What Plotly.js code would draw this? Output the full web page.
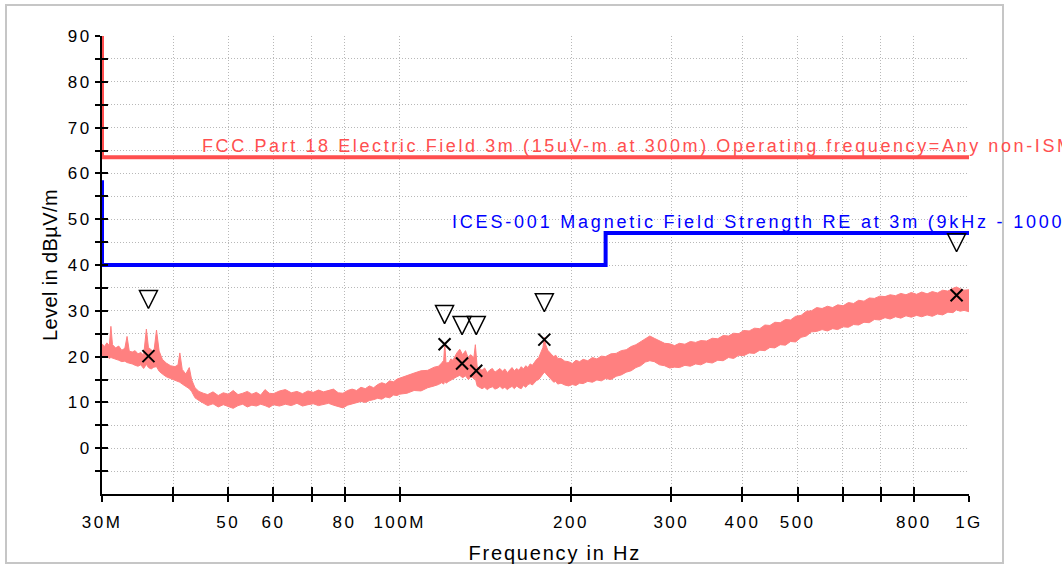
<!DOCTYPE html>
<html><head><meta charset="utf-8">
<script src="https://cdn.plot.ly/plotly-3.0.1.min.js"></script>
<style>
html,body{margin:0;padding:0;background:#fff;}
#chart{width:1062px;height:564px;}
.xtick text,.ytick text{letter-spacing:2.5px;}
</style></head><body><div id="chart"></div>
<script>
// ---- data (frequency in MHz, level in dBµV/m) ----
// measured spectrum, read as lower / upper edge of the trace band
const specFreqA = [30.0,30.3,30.6,30.9,31.1,31.3,31.7,32.1,32.5,32.9,33.2,33.5,33.9,34.3,34.7,35.1,35.5,35.9,36.2,36.6,37.0,37.4,37.8,38.3,38.9,39.6,40.3,40.8,41.1,41.5,42.1,42.7,43.1,43.7,44.4,45.2];
const specLoA   = [20.2,19.9,20.1,19.6,19.8,19.7,19.4,19.2,18.9,19.0,18.7,18.6,18.4,18.1,17.9,18.2,17.4,18.3,17.6,17.3,17.7,17.8,16.8,16.2,15.6,15.2,14.8,14.6,14.4,14.0,13.4,13.0,12.4,11.0,10.4,9.8];
const specHiA   = [22.8,22.2,23.0,22.4,26.6,22.6,21.9,22.3,21.4,21.8,24.4,21.2,21.0,21.3,20.6,20.9,20.3,26.0,22.0,21.4,21.0,25.8,21.2,19.4,18.6,18.0,17.8,18.2,20.8,17.2,16.2,17.6,15.0,13.2,12.4,12.0];

const specFreqB = [46,47,48,49,50,51,52,53,54,55,56,57,58,59,60,61.5,63,64.5,66,67.5,69,70.5,72,73.5,75,76.5,78,79.5,81,82.5,84,85.5,87,88.5,90,91.5,93,94.5,96,97.5,99,100];
const specLoB   = [9.3,9.7,9.0,9.5,9.1,8.7,9.3,9.6,9.0,9.4,9.2,9.6,9.3,8.9,9.5,9.2,9.6,9.3,9.8,9.2,9.5,9.7,9.3,9.6,9.8,9.4,9.1,8.8,9.4,9.7,9.9,10.2,10.0,10.4,10.6,10.9,10.7,11.2,11.0,11.6,11.5,11.8];
const specHiB   = [11.7,12.3,11.5,12.1,11.8,12.6,11.7,12.0,12.4,11.8,12.2,11.6,12.8,12.0,11.9,12.5,12.8,12.1,12.4,11.9,12.5,12.2,12.7,12.3,12.6,12.9,12.1,12.0,12.6,12.9,12.6,13.3,13.0,13.6,13.2,13.9,14.3,14.0,14.7,14.5,15.1,15.3];

const specFreqC = [103,106,109,112,115,117,118.5,119.5,120,120.6,122,123,124,125,126,127.5,129,130.5,132,133,134,135,135.8,136.8,138,139.5,141,142.5,144,145.5,147,148.5,150,151.5,153,154.5,156,157.5,159,160.5,162,163.5,165,166.5,168,169.5,171,172.5,174,175.5,177,178.5,179.5,180.5,182,183.5,185,186.5,188,189.5];
const specLoC   = [12.0,12.6,12.5,13.2,13.6,13.9,14.3,14.0,14.8,14.2,14.6,14.9,15.0,15.4,15.6,15.9,15.4,15.8,15.0,15.4,15.6,15.1,15.2,13.6,13.4,13.0,13.3,12.8,13.2,13.4,12.9,13.1,13.5,13.0,13.3,12.8,13.2,13.5,13.0,13.6,13.2,13.0,13.7,13.3,13.9,14.1,13.8,14.4,14.8,15.0,15.6,16.2,16.6,16.3,15.8,15.3,14.9,14.4,14.6,14.0];
const specHiC   = [16.0,16.4,16.9,17.0,17.7,17.9,18.6,19.2,23.0,18.6,18.7,19.5,19.2,20.2,20.8,21.6,20.4,21.3,19.6,20.4,20.2,19.8,22.6,17.8,17.4,17.0,17.5,16.5,17.1,17.4,16.6,17.0,17.4,16.8,17.3,16.5,17.1,17.6,16.9,17.4,17.0,17.8,17.3,18.0,17.6,18.4,18.1,18.8,19.4,19.8,20.8,22.0,24.2,22.6,21.4,20.8,20.4,20.0,20.3,19.6];

const specFreqD = [192,195,198,201,204,207,210,214,218,222,226,230,235,240,245,250,255,260,265,270,275,280,286,292,298,304,310,317,324,331,338,346,354,362,370,378,386,394,402,411,420,429,438,447,456,466,476,486,496,507,518,529,540,552,564,576,588,601,614,627,640,654,668,682,697,712,727,743,759,775,792,809,826,844,862,880,899,918,937,951,965,980,1000];
const specLoD   = [14.2,13.8,13.6,13.9,13.7,14.2,14.1,14.6,14.4,14.9,14.7,15.2,15.0,15.7,16.0,16.6,16.9,17.6,18.0,18.8,19.1,18.9,18.2,18.0,17.5,17.7,17.6,18.1,17.9,18.4,18.2,18.8,18.6,19.2,19.1,19.8,19.6,20.3,20.2,20.8,20.7,21.4,21.3,22.0,21.9,22.6,22.5,23.3,23.2,24.2,24.5,25.4,25.5,25.9,25.6,26.1,25.9,26.5,26.4,27.0,26.9,27.5,27.4,28.1,28.0,28.5,28.2,28.7,28.4,28.9,28.6,29.0,28.7,29.1,28.8,29.3,29.1,29.7,29.6,30.2,29.9,30.1,29.8];
const specHiD   = [19.6,19.0,18.9,18.5,19.2,18.9,19.4,19.1,19.8,19.5,20.1,20.0,20.6,20.7,21.3,21.5,22.2,22.6,23.3,23.9,24.5,24.0,23.5,22.9,22.8,22.4,22.9,22.7,23.3,23.1,23.5,23.4,24.0,23.9,24.6,24.5,25.1,25.0,25.7,25.6,26.2,26.1,26.9,26.8,27.5,27.4,28.1,28.0,28.8,29.0,29.9,30.0,30.7,30.5,31.0,30.7,31.3,31.1,31.8,31.6,32.3,32.1,32.8,32.7,33.2,33.1,33.5,33.3,33.8,33.5,34.0,33.6,34.1,33.7,34.2,33.9,34.5,34.3,34.9,35.2,34.8,34.5,34.6];

// limit lines
const fccFreq  = [30, 30, 1000];
const fccLevel = [90, 63.5, 63.5];
const icesFreq  = [30, 30, 230, 230, 1000];
const icesLevel = [58.5, 40, 40, 47, 47];

// final measurement markers
const peakFreq  = [36.2, 119.9, 128.7, 136.3, 179.5, 951];
const peakLevel = [30.5, 27.2, 24.8, 24.8, 29.8, 42.9];
const qpFreq  = [36.2, 119.9, 128.7, 136.3, 179.5, 951];
const qpLevel = [20.1, 22.7, 18.5, 16.9, 23.7, 33.4];

// axes
const xTickVals = [30,40,50,60,70,80,100,200,300,400,500,600,700,800,1000];
const xTickText = ['30M','','50','60','','80','100M','200','300','400','500','','','800','1G'];
const yTickVals = [-5,0,5,10,15,20,25,30,35,40,45,50,55,60,65,70,75,80,85,90];
const yTickText = ['','0','','10','','20','','30','','40','','50','','60','','70','','80','','90'];

const fccLabel  = 'FCC Part 18 Electric Field 3m (15uV-m at 300m) Operating frequency=Any non-ISM frequency';
const icesLabel = 'ICES-001 Magnetic Field Strength RE at 3m (9kHz - 1000MHz)';
const xTitle = 'Frequency in Hz';
const yTitle = 'Level in dBµV/m';

const specFreq = specFreqA.concat(specFreqB, specFreqC, specFreqD);
const specLo = specLoA.concat(specLoB, specLoC, specLoD);
const specHi = specHiA.concat(specHiB, specHiC, specHiD);

// ---- styles ----
const FONT = 'Liberation Sans, Arial, sans-serif';
const SPEC = '#ff8080';
const RED = '#ff4f4f';
const BLUE = '#0000ff';
const GRID = '#b8b8b8';

const traces = [
  {x: specFreq, y: specLo, mode: 'lines', line: {color: SPEC, width: 1}, hoverinfo: 'skip', showlegend: false},
  {x: specFreq, y: specHi, mode: 'lines', fill: 'tonexty', fillcolor: SPEC, line: {color: SPEC, width: 1}, hoverinfo: 'skip', showlegend: false},
  {x: fccFreq, y: fccLevel, mode: 'lines', line: {color: RED, width: 4}, cliponaxis: false, showlegend: false},
  {x: icesFreq, y: icesLevel, mode: 'lines', line: {color: BLUE, width: 4}, cliponaxis: false, showlegend: false},
  {x: peakFreq, y: peakLevel, mode: 'markers', marker: {symbol: 'arrow-down-open', size: 18, color: '#000', line: {color: '#000', width: 1.5}}, cliponaxis: false, showlegend: false},
  {x: qpFreq, y: qpLevel, mode: 'markers', marker: {symbol: 'x-thin-open', size: 12, color: '#000', line: {color: '#000', width: 2}}, cliponaxis: false, showlegend: false},
  {x: [null], y: [null], xaxis: 'x2', yaxis: 'y2', mode: 'lines', hoverinfo: 'skip', showlegend: false}
];

const layout = {
  width: 1062, height: 564, autosize: false,
  margin: {l: 102, r: 93, t: 36, b: 70, pad: 0},
  paper_bgcolor: '#fff', plot_bgcolor: '#fff',
  showlegend: false,
  font: {family: FONT, size: 17, color: '#000'},
  xaxis: {
    type: 'log', range: [Math.log10(30), 3], autorange: false,
    tickmode: 'array', tickvals: xTickVals, ticktext: xTickText,
    ticks: 'outside', ticklen: 6, tickwidth: 2, tickcolor: '#000',
    ticklabelstandoff: 6,
    showline: true, linecolor: '#000', linewidth: 2,
    showgrid: true, gridcolor: GRID, gridwidth: 1, griddash: '1px,2px',
    zeroline: false, layer: 'below traces',
    tickfont: {family: FONT, size: 17, color: '#000'}
  },
  yaxis: {
    range: [-10, 90], autorange: false,
    tickmode: 'array', tickvals: yTickVals, ticktext: yTickText,
    ticks: 'outside', ticklen: 5, tickwidth: 2, tickcolor: '#000',
    showline: true, linecolor: '#000', linewidth: 2,
    showgrid: true, gridcolor: GRID, gridwidth: 1, griddash: '1px,2px',
    zeroline: false, layer: 'below traces',
    tickfont: {family: FONT, size: 17, color: '#000'}
  },
  xaxis2: {
    type: 'log', range: [Math.log10(30), 3], autorange: false, overlaying: 'x', anchor: 'y2', side: 'bottom',
    tickmode: 'array', tickvals: xTickVals, ticks: 'inside', ticklen: 7, tickwidth: 2, tickcolor: '#000',
    showticklabels: false, showgrid: false, showline: false, zeroline: false
  },
  yaxis2: {
    range: [-10, 90], autorange: false, overlaying: 'y', anchor: 'x2', side: 'left',
    tickmode: 'array', tickvals: yTickVals, ticks: 'inside', ticklen: 6, tickwidth: 2, tickcolor: '#000',
    showticklabels: false, showgrid: false, showline: false, zeroline: false
  },
  annotations: [
    {x: Math.log10(44.6), y: 63.5, xref: 'x', yref: 'y', text: fccLabel, showarrow: false, align: 'left',
     xanchor: 'left', yanchor: 'bottom', yshift: -1, font: {family: FONT, size: 18, color: RED}},
    {x: Math.log10(122.7), y: 47, xref: 'x', yref: 'y', text: icesLabel, showarrow: false, align: 'left',
     xanchor: 'left', yanchor: 'bottom', yshift: -1, font: {family: FONT, size: 18, color: BLUE}},
    {x: (555 - 102) / 867, y: (494 - 553) / 458, xref: 'paper', yref: 'paper', text: xTitle, showarrow: false,
     xanchor: 'center', yanchor: 'middle', font: {family: FONT, size: 20, color: '#000'}},
    {x: (50 - 102) / 867, y: 0.5, xref: 'paper', yref: 'paper', text: yTitle, showarrow: false, textangle: -90,
     xanchor: 'center', yanchor: 'middle', font: {family: FONT, size: 20, color: '#000'}}
  ],
  shapes: [
    {type: 'rect', xref: 'paper', yref: 'paper', x0: (6 - 102) / 867, x1: (1003 - 102) / 867,
     y0: (494 - 563) / 458, y1: (494 - 5) / 458, line: {color: '#c6c6c6', width: 2}, fillcolor: 'rgba(0,0,0,0)'}
  ]
};

Plotly.newPlot('chart', traces, layout, {staticPlot: true, displayModeBar: false}).then(function () {
  document.querySelectorAll('.annotation-text').forEach(function (t) {
    const s = t.textContent;
    if (s.indexOf('FCC') === 0) t.style.letterSpacing = '2.6px';
    else if (s.indexOf('ICES') === 0) t.style.letterSpacing = '2.8px';
    else if (s === xTitle) t.style.letterSpacing = '1.8px';
    else t.style.letterSpacing = '0.4px';
  });
});
</script></body></html>
